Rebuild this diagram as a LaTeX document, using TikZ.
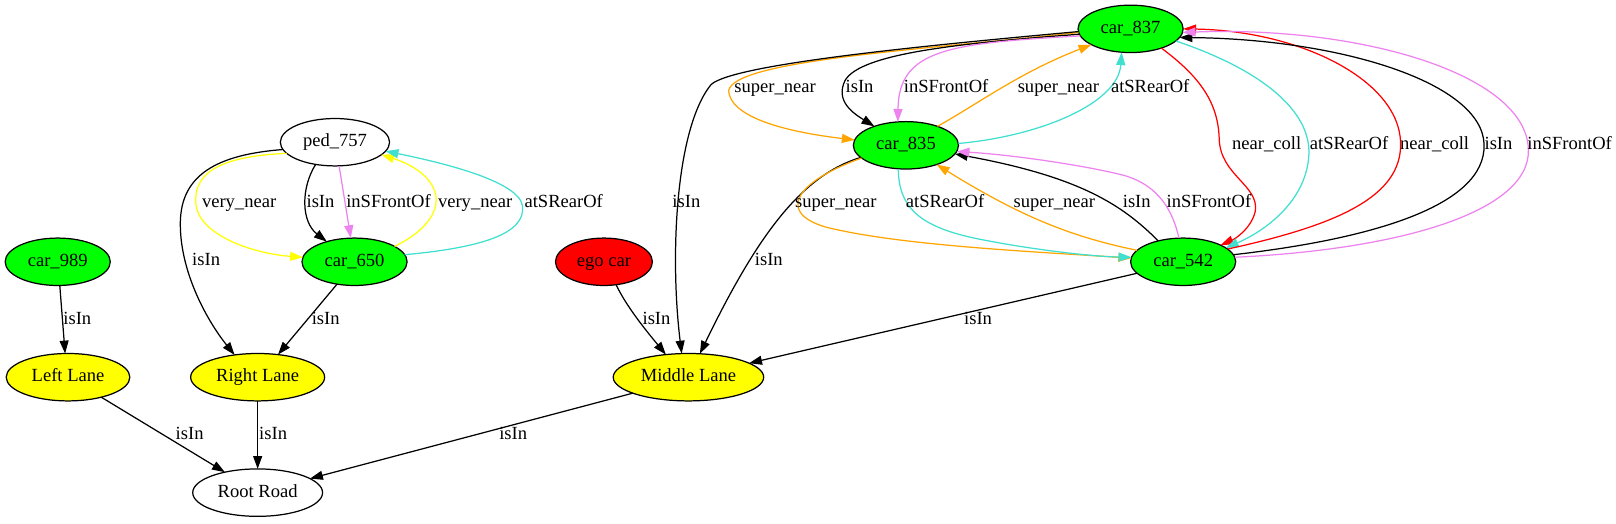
\documentclass[tikz,border=0pt]{standalone}
\usepackage{fontspec}
\setmainfont{Liberation Serif}
\usetikzlibrary{arrows.meta,shapes.geometric}
\definecolor{gvgreen}{RGB}{0,255,0}
\definecolor{gvorange}{RGB}{255,165,0}
\definecolor{gvviolet}{RGB}{238,130,238}
\definecolor{gvturq}{RGB}{64,224,208}
\definecolor{gvyellow}{RGB}{255,255,0}
\definecolor{gvred}{RGB}{255,0,0}
\begin{document}
\begin{tikzpicture}[x=1pt,y=-1pt,
  every node/.style={font=\fontsize{18}{20}\selectfont},
  nd/.style={ellipse,draw=black,line width=1.2pt,inner sep=0pt,outer sep=0pt,
             minimum height=46pt,text height=12.5pt,text depth=3.5pt},
  carnode/.style={nd,fill=gvgreen,minimum width=102pt},
  lanenode/.style={nd,fill=gvyellow},
  plainnode/.style={nd,fill=white},
  e/.style={line width=1.2pt,-{Triangle[length=12.5pt,width=8.7pt]}},
  lbl/.style={inner sep=0pt,text height=12.5pt,text depth=3.5pt}]
\useasboundingbox (0,0) rectangle (1568,507.5);
\fill[white] (0,0) rectangle (1568,507.5);

% nodes
\node[carnode] (c837) at (1097,28) {car\_837};
\node[carnode] (c835) at (879,141) {car\_835};
\node[carnode] (c542) at (1148,254) {car\_542};
\node[plainnode,minimum width=106pt] (p757) at (325,138) {ped\_757};
\node[carnode] (c650) at (344,254) {car\_650};
\node[carnode] (c989) at (56,254) {car\_989};
\node[nd,fill=gvred,minimum width=94pt] (ego) at (586,254) {ego car};
\node[lanenode,minimum width=120pt] (ll) at (66,366) {Left Lane};
\node[lanenode,minimum width=130pt] (rl) at (250,366) {Right Lane};
\node[lanenode,minimum width=146pt] (ml) at (668,366) {Middle Lane};
\node[plainnode,minimum width=126pt] (rr) at (250,478) {Root Road};

% car_837 -> car_835 / Middle Lane
\draw[e,gvorange] (c837.184) .. controls (900,48) and (712,58) .. (707,88) .. controls (709,118) and (780,130) .. (c835.174);
\draw[e] (c837.183) .. controls (900,44) and (712,62) .. (690,82) .. controls (655,125) and (650,250) .. (ml.106);
\draw[e] (c837.186) .. controls (930,42) and (835,52) .. (820,78) .. controls (810,98) and (828,110) .. (c835.149);
\draw[e,gvviolet] (c837.188) .. controls (920,42) and (872,48) .. (c835.109);
% car_835 -> car_837
\draw[e,gvorange] (c835.31) .. controls (950,100) and (990,70) .. (c837.202);
\draw[e,gvturq] (c835.2) .. controls (1010,132) and (1085,100) .. (c837.249);
% car_837 -> car_542
\draw[e,gvred] (c837.328) .. controls (1165,75) and (1182,100) .. (1183,135) .. controls (1184,170) and (1222,180) .. (1218,205) .. controls (1214,222) and (1198,232) .. (c542.24);
\draw[e,gvturq] (c837.345) .. controls (1225,68) and (1272,108) .. (1270,150) .. controls (1268,192) and (1232,222) .. (c542.18);
% car_542 -> car_837
\draw[e,gvred] (c542.16) .. controls (1300,218) and (1360,190) .. (1359,139) .. controls (1358,78) and (1262,30) .. (c837.0);
\draw[e] (c542.8) .. controls (1330,232) and (1442,200) .. (1440,140) .. controls (1438,80) and (1300,38) .. (c837.350);
\draw[e,gvviolet] (c542.5) .. controls (1360,242) and (1485,205) .. (1483,145) .. controls (1481,72) and (1320,25) .. (c837.356);
% car_835 -> Middle Lane / car_542
\draw[e] (c835.195) .. controls (778,170) and (735,228) .. (ml.64);
\draw[e,gvorange] (c835.196) .. controls (775,175) and (752,205) .. (800,220) .. controls (870,238) and (1000,244) .. (c542.176);
\draw[e,gvturq] (c835.252) .. controls (872,200) and (890,220) .. (950,232) .. controls (1000,242) and (1060,249) .. (c542.175);
% car_542 -> car_835
\draw[e,gvorange] (c542.166) .. controls (1040,230) and (990,210) .. (c835.328);
\draw[e] (c542.140) .. controls (1090,200) and (1050,172) .. (c835.350);
\draw[e,gvviolet] (c542.100) .. controls (1138,205) and (1125,180) .. (1090,170) .. controls (1050,160) and (980,150) .. (c835.353);
% lanes
\draw[e] (c542.194) -- (ml.13);
\draw[e] (ego.298) .. controls (608,298) and (628,322) .. (ml.135);
\draw[e] (ml.196) -- (rr.15);
\draw[e] (ll.329) -- (rr.148);
\draw[e] (rl.south) -- (rr.north);
\draw[e] (c989.275) -- (ll.97);
\draw[e] (c650.232) -- (rl.48);
% ped_757
\draw[e] (p757.188) .. controls (210,150) and (176,170) .. (175,215) .. controls (174,262) and (200,310) .. (rl.136);
\draw[e,gvyellow] (p757.193) .. controls (205,152) and (188,172) .. (190,198) .. controls (193,228) and (245,246) .. (c650.175);
\draw[e] (p757.229) .. controls (292,182) and (292,215) .. (c650.144);
\draw[e,gvviolet] (p757.280) -- (c650.99);
\draw[e,gvyellow] (c650.21) .. controls (412,225) and (428,205) .. (422,186) .. controls (416,168) and (395,158) .. (p757.345);
\draw[e,gvturq] (c650.8) .. controls (470,240) and (510,226) .. (507,200) .. controls (504,176) and (430,158) .. (p757.350);

% labels
\node[lbl] (l1) at (752,85) {super\_near};
\node[lbl] (l2) at (834,85) {isIn};
\node[lbl] (l3) at (918,85) {inSFrontOf};
\node[lbl] (l4) at (1027,85) {super\_near};
\node[lbl] (l5) at (1116,85) {atSRearOf};
\node[lbl] (l6) at (1229,141) {near\_coll};
\node[lbl] (l7) at (1309,141) {atSRearOf};
\node[lbl] (l8) at (1392,141) {near\_coll};
\node[lbl] (l9) at (1454,141) {isIn};
\node[lbl] (l10) at (1523,141) {inSFrontOf};
\node[lbl] (l11) at (232,197) {very\_near};
\node[lbl] (l12) at (311,197) {isIn};
\node[lbl] (l13) at (377,197) {inSFrontOf};
\node[lbl] (l14) at (461,197) {very\_near};
\node[lbl] (l15) at (547,197) {atSRearOf};
\node[lbl] (l16) at (666,197) {isIn};
\node[lbl] (l17) at (811,197) {super\_near};
\node[lbl] (l18) at (917,197) {atSRearOf};
\node[lbl] (l19) at (1023,197) {super\_near};
\node[lbl] (l20) at (1103,197) {isIn};
\node[lbl] (l21) at (1173,197) {inSFrontOf};
\node[lbl] (l22) at (200,253) {isIn};
\node[lbl] (l23) at (746,253) {isIn};
\node[lbl] (l24) at (75,310) {isIn};
\node[lbl] (l25) at (316,310) {isIn};
\node[lbl] (l26) at (637,310) {isIn};
\node[lbl] (l27) at (949,310) {isIn};
\node[lbl] (l28) at (184,422) {isIn};
\node[lbl] (l29) at (265,422) {isIn};
\node[lbl] (l30) at (498,422) {isIn};
\end{tikzpicture}
\end{document}
